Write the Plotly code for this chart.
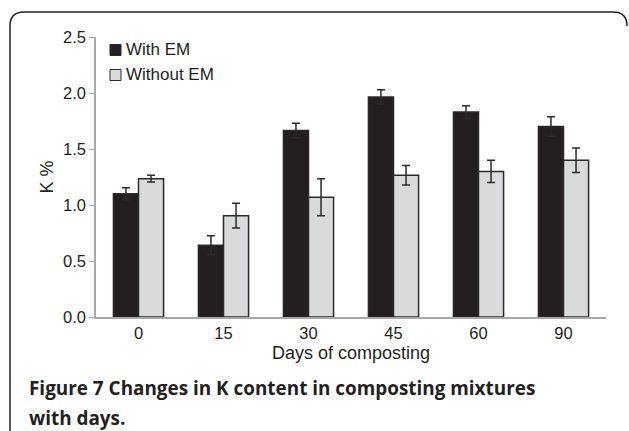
import plotly.graph_objects as go

days = ["0", "15", "30", "45", "60", "90"]
with_em = [1.10, 0.64, 1.665, 1.965, 1.83, 1.70]
with_em_err = [0.055, 0.085, 0.065, 0.065, 0.057, 0.087]
without_em = [1.235, 0.905, 1.07, 1.265, 1.30, 1.40]
without_em_err = [0.03, 0.11, 0.165, 0.087, 0.10, 0.11]
series_names = ["With EM", "Without EM"]
series_colors = ["#231f20", "#d9dadc"]

W, H = 629, 431
L, R, T, B = 96, 23, 37, 114
pw, ph = W - L - R, H - T - B

def px(x):
    return (x - L) / pw

def py(y):
    return (H - B - y) / ph

fig = go.Figure()
for name, vals, errs, col in zip(series_names, [with_em, without_em],
                                 [with_em_err, without_em_err], series_colors):
    fig.add_trace(go.Bar(
        x=days, y=vals, name=name, showlegend=False,
        marker=dict(color=col, line=dict(color="#2a2a2a", width=1.5)),
        error_y=dict(type="data", array=errs, visible=True,
                     color="#2a2a2a", thickness=1.5, width=4),
    ))

font_main = "Liberation Sans, Arial, sans-serif"

# manual legend (tight spacing like the reference)
for i, (name, col) in enumerate(zip(series_names, series_colors)):
    cy = 50 + 25 * i
    fig.add_shape(type="rect", xref="paper", yref="paper",
                  x0=px(110), x1=px(121), y0=py(cy + 5.5), y1=py(cy - 5.5),
                  fillcolor=col, line=dict(color="#2a2a2a", width=1))
    fig.add_annotation(x=px(124), y=py(cy), xref="paper", yref="paper",
                       xanchor="left", yanchor="middle", showarrow=False,
                       text=name, font=dict(family=font_main, size=17, color="#231f20"))

# frame with rounded top-left corner
x0, x1 = px(10), px(627)
yt, yb = py(12), py(433)
rx, ry = 14 / pw, 14 / ph
path = (f"M {x0},{yb} L {x0},{yt - ry} Q {x0},{yt} {x0 + rx},{yt} "
        f"L {x1 - rx},{yt} Q {x1},{yt} {x1},{yt - ry}")
fig.add_shape(type="path", path=path, xref="paper", yref="paper",
              line=dict(color="#222", width=1.5), layer="above")

cap_font = dict(family="Open Sans, sans-serif", size=18.9, color="#231f20")
fig.add_annotation(x=px(27), y=py(388), xref="paper", yref="paper",
                   xanchor="left", yanchor="middle", showarrow=False,
                   text="<b>Figure 7</b> <b>Changes in K content in composting mixtures</b>",
                   font=cap_font)
fig.add_annotation(x=px(27), y=py(418), xref="paper", yref="paper",
                   xanchor="left", yanchor="middle", showarrow=False,
                   text="<b>with days.</b>", font=cap_font)

fig.update_layout(
    width=W, height=H,
    margin=dict(l=L, r=R, t=T, b=B),
    paper_bgcolor="white", plot_bgcolor="white",
    barmode="group", bargap=0.41, bargroupgap=0,
    font=dict(family=font_main, size=16.5, color="#231f20"),
    xaxis=dict(type="category", showline=True, linecolor="#a8a8a8", linewidth=1.5,
               ticks="", showgrid=False, zeroline=False,
               title=dict(text="Days of composting", standoff=6, font=dict(size=18))),
    yaxis=dict(range=[0, 2.5], dtick=0.5, tickformat=".1f", showline=True,
               linecolor="#a8a8a8", linewidth=1.5, ticks="outside", ticklen=5,
               tickcolor="#a8a8a8", showgrid=False, zeroline=False,
               title=dict(text="K %", standoff=5, font=dict(size=18))),
)

fig.write_html("out.html", config={"displayModeBar": False},
               post_script="document.body.style.margin='0px';")
